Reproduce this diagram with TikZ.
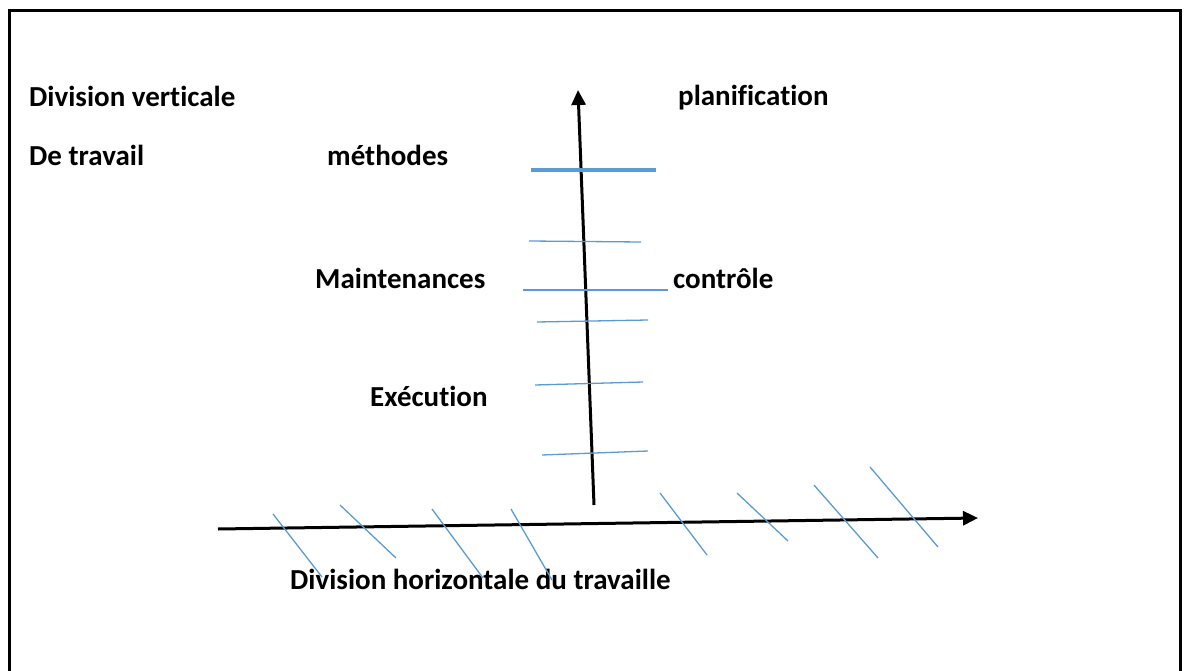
\documentclass[tikz,border=0pt]{standalone}
\usepackage{fontspec}
\setmainfont{Carlito}[Ligatures=CommonOff]
\usetikzlibrary{arrows.meta}
\definecolor{officeblue}{HTML}{5B9BD5}
\begin{document}
\begin{tikzpicture}[x=1pt,y=-1pt,
  lbl/.style={anchor=base west,inner sep=0pt,font=\fontsize{29}{34}\selectfont\bfseries},
  axis/.style={line width=3pt,-{Triangle[length=15pt,width=14pt]}},
  tick/.style={officeblue,line width=1.3pt},
  thicktick/.style={officeblue,line width=4pt}]
\useasboundingbox (0,0) rectangle (1188,671);
% frame
\draw[line width=3pt] (9,680) -- (9,11) -- (1180,11) -- (1180,680);
% labels
\node[lbl] (dv) at (29,107) {Division verticale};
\node[lbl] (dt) at (29,166) {De travail};
\node[lbl] (me) at (327,166) {méthodes};
\node[lbl] (pl) at (678,106) {planification};
\node[lbl] (ma) at (315,288) {Maintenances};
\node[lbl] (co) at (673,288) {contrôle};
\node[lbl] (ex) at (370,406) {Exécution};
\node[lbl] (dh) at (290,589) {Division horizontale du travaille};
% axes
\coordinate (vb) at (594,505);
\coordinate (vt) at (578,90);
\coordinate (hl) at (218,529);
\coordinate (hr) at (978,518);
\draw[axis] (vb) -- (vt);
\draw[axis] (hl) -- (hr);
% ticks on vertical axis
\draw[thicktick] (531,170) -- (656,170);
\draw[tick] (529,241) -- (641,242);
\draw[tick,line width=1.6pt] (523,290) -- (668,290);
\draw[tick] (537,322) -- (648,320);
\draw[tick] (535,385) -- (643,382);
\draw[tick] (542,455) -- (648,451);
% ticks on horizontal axis
\draw[tick] (273,514) -- (322,577);
\draw[tick] (340,505) -- (396,558);
\draw[tick] (432,509) -- (483,578);
\draw[tick] (511,509) -- (552,580);
\draw[tick] (660,493) -- (707,555);
\draw[tick] (737,493) -- (788,541);
\draw[tick] (814,485) -- (878,558);
\draw[tick] (870,467) -- (938,547);
\end{tikzpicture}
\end{document}
